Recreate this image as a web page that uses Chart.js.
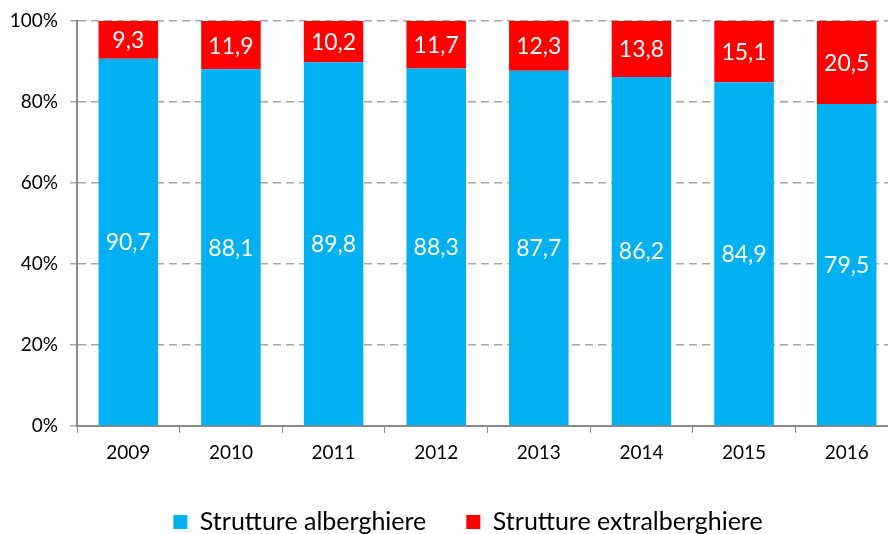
<!DOCTYPE html>
<html><head><meta charset="utf-8">
<script src="https://cdn.jsdelivr.net/npm/chart.js@4"></script>
<style>html,body{margin:0;padding:0;overflow:hidden;background:#fff;width:888px;height:534px}
#wrap{width:910px;height:534px;position:relative}</style>
</head><body><div id="wrap"><canvas id="c" width="910" height="534"></canvas></div>
<script>
const years = ['2009','2010','2011','2012','2013','2014','2015','2016'];
const alberghiere = [90.7,88.1,89.8,88.3,87.7,86.2,84.9,79.5];
const extralberghiere = [9.3,11.9,10.2,11.7,12.3,13.8,15.1,20.5];
const yTicks = [0,20,40,60,80,100];
const FONT = 'Lato, "Open Sans", sans-serif';

const labelPlugin = {
  id:'barLabels',
  afterDatasetsDraw(chart){
    const ctx = chart.ctx;
    ctx.save();
    ctx.fillStyle='#fff';
    ctx.font = '23px ' + FONT;
    ctx.textAlign='center';ctx.textBaseline='middle';
    chart.data.datasets.forEach((ds,i)=>{
      const meta = chart.getDatasetMeta(i);
      meta.data.forEach((bar,j)=>{
        const y = (bar.y + bar.base)/2;
        ctx.fillText(ds.data[j].toFixed(1).replace('.',','), bar.x, y+1);
      });
    });
    ctx.restore();
  }
};

const legendShift = {
  id:'legendShift',
  afterLayout(chart){
    const lg = chart.legend;
    const centerY = lg.top + lg.options.labels.padding + 12.5;
    const dy = 522 - centerY;
    lg.top += dy; lg.bottom += dy;
    lg.left += 19; lg.right += 19;
  }
};

new Chart(document.getElementById('c'),{
  type:'bar',
  data:{labels:years,datasets:[
    {label:'Strutture alberghiere',data:alberghiere,backgroundColor:'#00B0F0',barPercentage:0.58,categoryPercentage:1},
    {label:'Strutture extralberghiere',data:extralberghiere,backgroundColor:'#FF0000',barPercentage:0.58,categoryPercentage:1}
  ]},
  options:{
    responsive:false,animation:false,
    layout:{padding:{top:21,right:12,left:0,bottom:0}},
    plugins:{
      legend:{position:'bottom',labels:{font:{size:25,family:FONT},color:'#000',boxWidth:14,boxHeight:14,padding:40,useBorderRadius:false}},
      tooltip:{enabled:false}
    },
    scales:{
      x:{stacked:true,afterFit(ax){ax.height=33;ax.paddingLeft=0;ax.paddingRight=0;},grid:{offset:true,drawOnChartArea:false,tickLength:7,color:'#898989'},border:{color:'#898989',width:2},
         ticks:{font:{size:19,family:FONT},color:'#000',padding:8}},
      y:{stacked:true,min:0,max:100,afterFit(ax){ax.width=77;ax.paddingTop=0;ax.paddingBottom=0;},afterBuildTicks(ax){ax.ticks=yTicks.map(v=>({value:v}));},
         grid:{color:'#A6A6A6',tickLength:7,lineWidth:1.5,tickBorderDash:[]},border:{color:'#898989',width:2,dash:[8,5]},
         ticks:{font:{size:19,family:FONT},color:'#000',padding:12,callback:v=>v+'%'}}
    }
  },
  plugins:[labelPlugin,legendShift]
});
</script></body></html>
